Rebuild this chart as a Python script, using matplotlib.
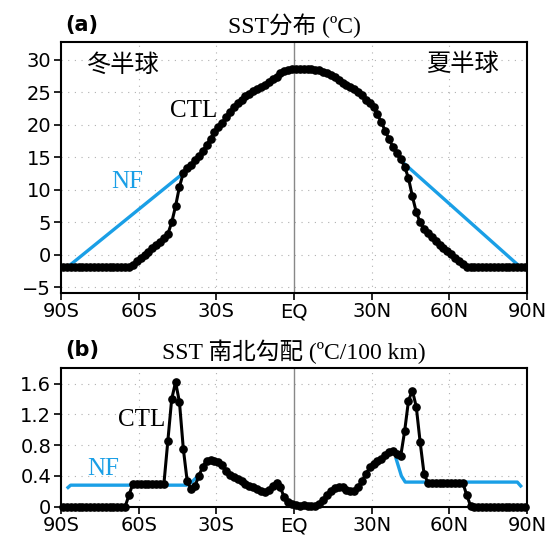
import numpy as np
import matplotlib
matplotlib.use("Agg")
import matplotlib.pyplot as plt

# latitude grid of the model output (1.5 deg)
lat = np.arange(-89.25, 90, 1.5)

# (a) SST (degC), CTL run
sst_ctl = [
    -1.8, -1.8, -1.8, -1.8, -1.8, -1.8, -1.8, -1.8, -1.8, -1.8,
    -1.8, -1.8, -1.8, -1.8, -1.8, -1.8, -1.8, -1.8, -1.5, -1.0,
    -0.5, 0.0, 0.5, 1.0, 1.5, 2.0, 2.6, 3.2, 5.0, 7.5,
    10.5, 12.6, 13.3, 13.9, 14.6, 15.2, 16.0, 16.9, 17.9, 18.9,
    19.6, 20.3, 21.2, 22.0, 22.7, 23.3, 23.9, 24.4, 24.8, 25.2,
    25.5, 25.8, 26.2, 26.6, 27.0, 27.3, 28.0, 28.3, 28.5, 28.6,
    28.6, 28.6, 28.6, 28.6, 28.6, 28.5, 28.4, 28.2, 28.0, 27.7,
    27.3, 26.9, 26.5, 26.1, 25.8, 25.5, 25.1, 24.6, 23.9, 23.3,
    22.8, 21.6, 20.4, 19.1, 17.8, 16.6, 15.6, 14.7, 13.6, 11.8,
    9.0, 6.6, 5.0, 4.0, 3.3, 2.7, 2.1, 1.6, 1.1, 0.6,
    0.1, -0.4, -0.9, -1.4, -1.8, -1.8, -1.8, -1.8, -1.8, -1.8,
    -1.8, -1.8, -1.8, -1.8, -1.8, -1.8, -1.8, -1.8, -1.8, -1.8,
]

# (a) SST, NF run (only where it differs from CTL)
nf_sst_lat_s = [-87.3, -43.3]
nf_sst_s = [-1.8, 12.4]
nf_sst_lat_n = [42.2, 87.3]
nf_sst_n = [14.2, -1.8]

# (b) meridional SST gradient (degC/100 km), CTL run
grad_ctl = [
    0.0, 0.0, 0.0, 0.0, 0.0, 0.0, 0.0, 0.0, 0.0, 0.0,
    0.0, 0.0, 0.0, 0.0, 0.0, 0.0, 0.0, 0.15, 0.30, 0.30,
    0.30, 0.30, 0.30, 0.30, 0.30, 0.30, 0.30, 0.85, 1.40, 1.62,
    1.36, 0.75, 0.33, 0.23, 0.27, 0.40, 0.52, 0.60, 0.61, 0.60,
    0.58, 0.54, 0.46, 0.41, 0.38, 0.36, 0.33, 0.30, 0.27, 0.25,
    0.23, 0.20, 0.19, 0.22, 0.27, 0.31, 0.25, 0.12, 0.06, 0.04,
    0.02, 0.01, 0.02, 0.01, 0.01, 0.01, 0.04, 0.09, 0.15, 0.20,
    0.24, 0.26, 0.25, 0.22, 0.20, 0.21, 0.26, 0.33, 0.42, 0.51,
    0.56, 0.59, 0.62, 0.67, 0.71, 0.73, 0.68, 0.66, 0.98, 1.38,
    1.51, 1.30, 0.84, 0.43, 0.31, 0.31, 0.31, 0.31, 0.31, 0.31,
    0.31, 0.31, 0.31, 0.31, 0.15, 0.01, 0.0, 0.0, 0.0, 0.0,
    0.0, 0.0, 0.0, 0.0, 0.0, 0.0, 0.0, 0.0, 0.0, 0.0,
]

# (b) NF gradient (polar parts)
nf_grad_lat_s = [-87.3, -86.3, -41.5, -39.5, -36.5]
nf_grad_s = [0.25, 0.28, 0.28, 0.32, 0.42]
nf_grad_lat_n = [39.5, 41.5, 43.0, 86.3, 87.6]
nf_grad_n = [0.62, 0.40, 0.32, 0.32, 0.27]

xticks = [-90, -60, -30, 0, 30, 60, 90]
xlabels = ["90S", "60S", "30S", "EQ", "30N", "60N", "90N"]

BLUE = "#1a9fe6"
SERIF_CJK = ["Liberation Serif", "Noto Sans CJK SC"]
CJK = ["Noto Sans CJK SC", "DejaVu Sans"]

fig = plt.figure(figsize=(5.5, 5.38), dpi=100)
ax1 = fig.add_axes([0.111, 0.456, 0.847, 0.4654])
ax2 = fig.add_axes([0.111, 0.0582, 0.847, 0.2572])


def style(ax, yticks, ylabels):
    ax.set_xlim(-90, 90)
    ax.set_xticks(xticks)
    ax.set_xticklabels(xlabels)
    ax.set_yticks(yticks)
    ax.set_yticklabels(ylabels)
    ax.tick_params(direction="out", length=5, width=1.2, labelsize=14, pad=2)
    for s in ax.spines.values():
        s.set_linewidth(1.5)
    for x in xticks[1:-1]:
        if x != 0:
            ax.axvline(x, color="#b0b0b0", lw=0.8, ls=(0, (1, 5)), zorder=0)
    for y in yticks:
        ax.axhline(y, color="#b0b0b0", lw=0.8, ls=(0, (1, 5)), zorder=0)
    ax.axvline(0, color="#888888", lw=1.0, zorder=1)


# ---- panel (a)
ax1.set_ylim(-5.8, 32.7)
style(ax1, [-5, 0, 5, 10, 15, 20, 25, 30],
      ["\u22125", "0", "5", "10", "15", "20", "25", "30"])
ax1.plot(nf_sst_lat_s, nf_sst_s, color=BLUE, lw=2.4, zorder=2)
ax1.plot(nf_sst_lat_n, nf_sst_n, color=BLUE, lw=2.4, zorder=2)
ax1.plot(lat, sst_ctl, color="black", lw=2.2, marker="o", ms=5.2, zorder=3)
ax1.text(-66, 29.3, "冬半球", family=CJK, fontsize=17.5, ha="center", va="center")
ax1.text(65, 29.3, "夏半球", family=CJK, fontsize=17.5, ha="center", va="center")
ax1.text(-38.6, 22.2, "CTL", family="Liberation Serif", fontsize=18,
         ha="center", va="center")
ax1.text(-64.5, 11.2, "NF", family="Liberation Serif", fontsize=18,
         color=BLUE, ha="center", va="center")
ax1.set_title("SST分布 (ºC)", family=SERIF_CJK, fontsize=17, pad=7)
ax1.text(0.01, 1.03, "(a)", transform=ax1.transAxes, fontsize=15,
         fontweight="bold", ha="left", va="bottom")

# ---- panel (b)
ax2.set_ylim(0, 1.8)
style(ax2, [0, 0.4, 0.8, 1.2, 1.6], ["0", "0.4", "0.8", "1.2", "1.6"])
ax2.plot(nf_grad_lat_s, nf_grad_s, color=BLUE, lw=2.4, zorder=2)
ax2.plot(nf_grad_lat_n, nf_grad_n, color=BLUE, lw=2.4, zorder=2)
ax2.plot(lat, grad_ctl, color="black", lw=2.2, marker="o", ms=5.2, zorder=3,
         clip_on=False)
ax2.text(-58.7, 1.13, "CTL", family="Liberation Serif", fontsize=18,
         ha="center", va="center")
ax2.text(-73.8, 0.49, "NF", family="Liberation Serif", fontsize=18,
         color=BLUE, ha="center", va="center")
ax2.set_title("SST 南北勾配 (ºC/100 km)", family=SERIF_CJK, fontsize=17, pad=7)
ax2.text(0.01, 1.06, "(b)", transform=ax2.transAxes, fontsize=15,
         fontweight="bold", ha="left", va="bottom")

fig.savefig("out.png", dpi=100)
